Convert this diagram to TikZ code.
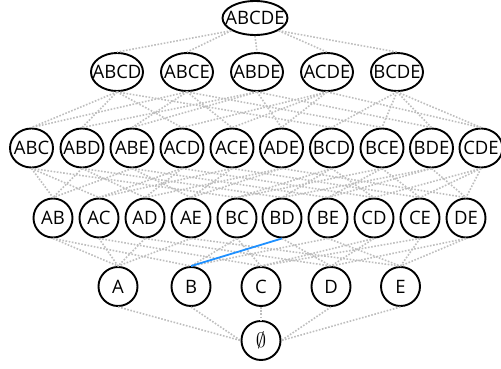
\documentclass[tikz,border=0pt]{standalone}
\usepackage{fontspec}
\setmainfont{Open Sans}
\usetikzlibrary{shapes.geometric}
\definecolor{EdgeGray}{HTML}{BEBEBE}
\definecolor{PathBlue}{HTML}{1E90FF}
\tikzset{%
  set/.style={ellipse, draw, line width=1.9pt, inner sep=0pt, anchor=center,
    font=\fontsize{18.5}{18.5}\selectfont,
    execute at begin node={\hbox to 0pt\bgroup\hss},
    execute at end node={\hss\egroup}},
  top set/.style={set, minimum width=65pt, minimum height=34pt},
  quad set/.style={set, minimum width=52pt, minimum height=38pt},
  triple set/.style={set, minimum width=43pt, minimum height=39pt},
  small set/.style={set, minimum width=39pt, minimum height=39pt},
  link/.style={EdgeGray, line width=1.6pt, dash pattern=on 1.6pt off 1.6pt},
  chosen link/.style={PathBlue, line width=1.8pt}
}
\begin{document}
\begin{tikzpicture}[x=1pt, y=-1pt]
 \useasboundingbox (0,0) rectangle (501,369);

 \node[top set] (ABCDE) at (255,18) {ABCDE};

 \node[quad set] (ABCD) at (117,72) {ABCD};
 \node[quad set] (ABCE) at (187,72) {ABCE};
 \node[quad set] (ABDE) at (257,72) {ABDE};
 \node[quad set] (ACDE) at (327,72) {ACDE};
 \node[quad set] (BCDE) at (397,72) {BCDE};

 \node[triple set] (ABC) at (31.5,148) {ABC};
 \node[triple set] (ABD) at (82,148) {ABD};
 \node[triple set] (ABE) at (132,148) {ABE};
 \node[triple set] (ACD) at (182,148) {ACD};
 \node[triple set] (ACE) at (232,148) {ACE};
 \node[triple set] (ADE) at (281.5,148) {ADE};
 \node[triple set] (BCD) at (331.5,148) {BCD};
 \node[triple set] (BCE) at (382,148) {BCE};
 \node[triple set] (BDE) at (431.5,148) {BDE};
 \node[triple set] (CDE) at (481,148) {CDE};

 \node[small set] (AB) at (53,218) {AB};
 \node[small set] (AC) at (99,218) {AC};
 \node[small set] (AD) at (145,218) {AD};
 \node[small set] (AE) at (191,218) {AE};
 \node[small set] (BC) at (237,218) {BC};
 \node[small set] (BD) at (282,218) {BD};
 \node[small set] (BE) at (328,218) {BE};
 \node[small set] (CD) at (374,218) {CD};
 \node[small set] (CE) at (420,218) {CE};
 \node[small set] (DE) at (466,218) {DE};

 \node[small set] (A) at (118,286.5) {A};
 \node[small set] (B) at (191,286.5) {B};
 \node[small set] (C) at (261,286.5) {C};
 \node[small set] (D) at (331,286.5) {D};
 \node[small set] (E) at (400.5,286.5) {E};

 \node[small set] (empty) at (261,340.5) {\fontsize{21}{21}\selectfont$\emptyset$};

 % top to four-element sets
 \path[link] (ABCDE.south west) edge (ABCD.north) edge (ABCE.north)
   (ABCDE.south) edge (ABDE.north)
   (ABCDE.south east) edge (ACDE.north) edge (BCDE.north);

 % four to three
 \path[link] (ABCD.south) edge (ABC.north) edge (ABD.north) edge (ACD.north) edge (BCD.north);
 \path[link] (ABCE.south) edge (ABC.north) edge (ABE.north) edge (ACE.north) edge (BCE.north);
 \path[link] (ABDE.south) edge (ABD.north) edge (ABE.north) edge (ADE.north) edge (BDE.north);
 \path[link] (ACDE.south) edge (ACD.north) edge (ACE.north) edge (ADE.north) edge (CDE.north);
 \path[link] (BCDE.south) edge (BCD.north) edge (BCE.north) edge (BDE.north) edge (CDE.north);

 % three to two
 \path[link] (ABC.south) edge (AB.north) edge (AC.north) edge (BC.north);
 \path[link] (ABD.south) edge (AB.north) edge (AD.north) edge (BD.north);
 \path[link] (ABE.south) edge (AB.north) edge (AE.north) edge (BE.north);
 \path[link] (ACD.south) edge (AC.north) edge (AD.north) edge (CD.north);
 \path[link] (ACE.south) edge (AC.north) edge (AE.north) edge (CE.north);
 \path[link] (ADE.south) edge (AD.north) edge (AE.north) edge (DE.north);
 \path[link] (BCD.south) edge (BC.north) edge (BD.north) edge (CD.north);
 \path[link] (BCE.south) edge (BC.north) edge (BE.north) edge (CE.north);
 \path[link] (BDE.south) edge (BD.north) edge (BE.north) edge (DE.north);
 \path[link] (CDE.south) edge (CD.north) edge (CE.north) edge (DE.north);

 % two to one
 \path[link] (AB.south) edge (A.north) edge (B.north);
 \path[link] (AC.south) edge (A.north) edge (C.north);
 \path[link] (AD.south) edge (A.north) edge (D.north);
 \path[link] (AE.south) edge (A.north) edge (E.north);
 \path[link] (BC.south) edge (B.north) edge (C.north);
 \path[link] (BD.south) edge (D.north);
 \path[link] (BE.south) edge (B.north) edge (E.north);
 \path[link] (CD.south) edge (C.north) edge (D.north);
 \path[link] (CE.south) edge (C.north) edge (E.north);
 \path[link] (DE.south) edge (D.north) edge (E.north);

 % one to empty
 \draw[link] (A.south) -- (empty.west);
 \draw[link] (B.south) -- (empty.west);
 \draw[link] (C.south) -- (empty.north);
 \draw[link] (D.south) -- (empty.east);
 \draw[link] (E.south) -- (empty.east);

 \draw[chosen link] (B.north) -- (BD.south);

\end{tikzpicture}
\end{document}
